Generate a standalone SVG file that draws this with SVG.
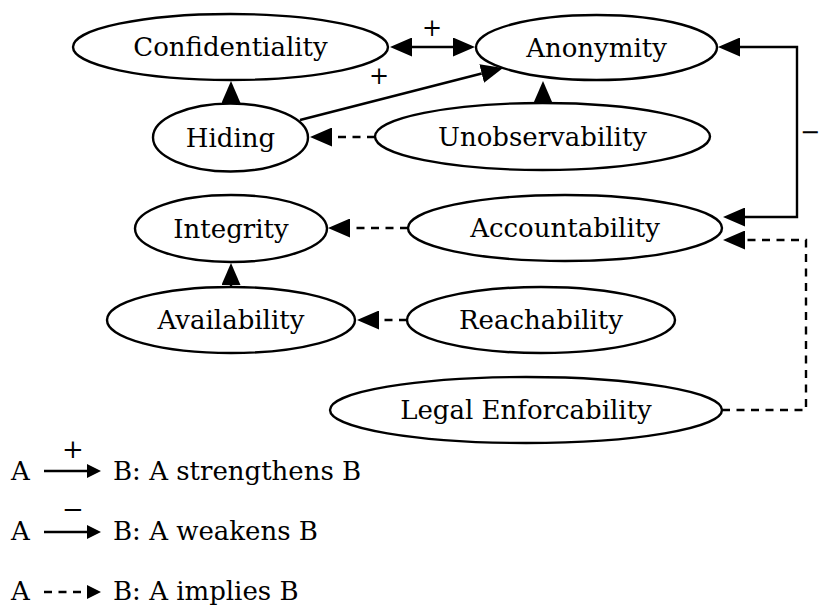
<svg xmlns="http://www.w3.org/2000/svg" width="819" height="605" viewBox="0 0 819 605">
  <style>
    .node ellipse { fill: #ffffff; stroke: #000000; stroke-width: 2.4; }
    .node text { font-family: "DejaVu Serif", "Liberation Serif", serif; font-size: 26px; fill: #000000; text-anchor: middle; }
    .edge { fill: none; stroke: #000000; stroke-width: 2.4; }
    .dash { stroke-dasharray: 8 6.5; }
    .lbl { font-family: "DejaVu Serif", "Liberation Serif", serif; font-size: 24px; fill: #000000; text-anchor: middle; }
    .legend text { font-family: "DejaVu Serif", "Liberation Serif", serif; font-size: 26px; fill: #000000; }
  </style>
  <defs>
    <!-- arrowhead whose base sits on the line end -->
    <marker id="head" viewBox="0 0 22 19" refX="0" refY="9.5" markerWidth="22" markerHeight="19" markerUnits="userSpaceOnUse" orient="auto-start-reverse">
      <path d="M0,0 L22,9.5 L0,19 z" fill="#000000"/>
    </marker>
    <marker id="headSmall" viewBox="0 0 14 14" refX="0" refY="7" markerWidth="14" markerHeight="14" markerUnits="userSpaceOnUse" orient="auto">
      <path d="M0,0 L14,7 L0,14 z" fill="#000000"/>
    </marker>
  </defs>

  <!-- connectors -->
  <g id="connectors">
    <!-- Confidentiality <-> Anonymity (+) -->
    <path class="edge" d="M412,47 H453" marker-start="url(#head)" marker-end="url(#head)"/>
    <text class="lbl" x="432" y="36">+</text>
    <!-- Hiding -> Anonymity (+) -->
    <path class="edge" d="M300,120 L481.7,73.5" marker-end="url(#head)"/>
    <text class="lbl" x="379" y="84">+</text>
    <!-- Hiding -> Confidentiality -->
    <path class="edge" d="M231,104 V103" marker-end="url(#head)"/>
    <!-- Unobservability -> Anonymity -->
    <path class="edge" d="M543,104 V103" marker-end="url(#head)"/>
    <!-- Unobservability -> Hiding (implies) -->
    <path class="edge dash" d="M375,137 H332" marker-end="url(#head)"/>
    <!-- Anonymity <-> Accountability (−) -->
    <path class="edge" d="M745,217 H797 V47 H740" marker-start="url(#head)" marker-end="url(#head)"/>
    <text class="lbl" x="800" y="140" style="text-anchor:start">−</text>
    <!-- Accountability -> Integrity (implies) -->
    <path class="edge dash" d="M408,228 H350" marker-end="url(#head)"/>
    <!-- Availability -> Integrity -->
    <path class="edge" d="M231,287 V285" marker-end="url(#head)"/>
    <!-- Reachability -> Availability (implies) -->
    <path class="edge dash" d="M407,320 H379" marker-end="url(#head)"/>
    <!-- Legal Enforcability -> Accountability (implies) -->
    <path class="edge dash" d="M722,410 H806 V240 H745" marker-end="url(#head)"/>
  </g>

  <!-- nodes -->
  <g id="confidentiality" class="node">
    <ellipse cx="230.5" cy="47" rx="157.5" ry="33"/>
    <text x="230.5" y="56">Confidentiality</text>
  </g>
  <g id="anonymity" class="node">
    <ellipse cx="596.5" cy="47.5" rx="120.5" ry="32.5"/>
    <text x="596.5" y="56.5">Anonymity</text>
  </g>
  <g id="hiding" class="node">
    <ellipse cx="230.5" cy="137.5" rx="77.5" ry="34"/>
    <text x="230.5" y="146.5">Hiding</text>
  </g>
  <g id="unobservability" class="node">
    <ellipse cx="542.5" cy="136.5" rx="167.5" ry="33.5"/>
    <text x="542.5" y="145.5">Unobservability</text>
  </g>
  <g id="integrity" class="node">
    <ellipse cx="231" cy="228.5" rx="96" ry="33.5"/>
    <text x="231" y="237.5">Integrity</text>
  </g>
  <g id="accountability" class="node">
    <ellipse cx="565" cy="228" rx="157" ry="33"/>
    <text x="565" y="237">Accountability</text>
  </g>
  <g id="availability" class="node">
    <ellipse cx="231" cy="320" rx="124" ry="33"/>
    <text x="231" y="329">Availability</text>
  </g>
  <g id="reachability" class="node">
    <ellipse cx="541" cy="320" rx="134" ry="33"/>
    <text x="541" y="329">Reachability</text>
  </g>
  <g id="legal-enforcability" class="node">
    <ellipse cx="526" cy="410" rx="196" ry="33"/>
    <text x="526" y="419">Legal Enforcability</text>
  </g>

  <!-- key -->
  <g id="legend" class="legend">
    <text x="11" y="480">A</text>
    <path class="edge" d="M44,471 H87" marker-end="url(#headSmall)"/>
    <text class="lbl" x="73" y="458">+</text>
    <text x="113" y="480">B: A strengthens B</text>

    <text x="11" y="540">A</text>
    <path class="edge" d="M44,532 H87" marker-end="url(#headSmall)"/>
    <text class="lbl" x="73" y="518">−</text>
    <text x="113" y="540">B: A weakens B</text>

    <text x="11" y="600">A</text>
    <path class="edge" d="M44,592 H87" stroke-dasharray="8 6.5" marker-end="url(#headSmall)"/>
    <text x="113" y="600">B: A implies B</text>
  </g>
</svg>
